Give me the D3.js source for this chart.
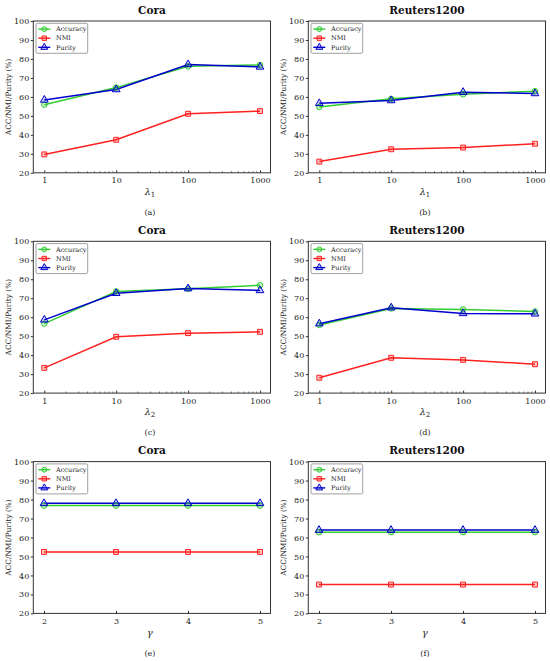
<!DOCTYPE html>
<html>
<head>
<meta charset="utf-8">
<script src="https://cdn.jsdelivr.net/npm/d3@7"></script>
<style>
  body { margin: 0; background: #fff; }
  text { font-family: "DejaVu Serif", serif; fill: #222; }
</style>
</head>
<body>
<div id="container"></div>
<script>
// values
var lambdaTicks = [1, 10, 100, 1000],
    gammaTicks = [2, 3, 4, 5],
    yTicks = [20, 30, 40, 50, 60, 70, 80, 90, 100],
    seriesNames = ['Accuracy', 'NMI', 'Purity'],
    panelTitles = ['Cora', 'Reuters1200', 'Cora', 'Reuters1200', 'Cora', 'Reuters1200'],
    panelTags = ['(a)', '(b)', '(c)', '(d)', '(e)', '(f)'];

var accA = [55.9, 64.9, 76.1, 76.8], nmiA = [29.7, 37.4, 51.1, 52.5], purA = [58.4, 63.9, 77.1, 75.8];
var accB = [54.7, 59.0, 61.4, 63.0], nmiB = [25.9, 32.4, 33.3, 35.3], purB = [56.6, 58.1, 62.5, 61.8];
var accC = [56.6, 73.6, 75.0, 76.8], nmiC = [33.3, 49.7, 51.6, 52.3], purC = [58.6, 72.6, 75.1, 74.1];
var accD = [55.9, 64.6, 64.1, 63.0], nmiD = [28.1, 38.6, 37.5, 35.2], purD = [56.6, 65.0, 62.0, 61.8];
var accE = [76.8, 76.8, 76.8, 76.8], nmiE = [52.4, 52.4, 52.4, 52.4], purE = [78.0, 78.0, 78.0, 78.0];
var accF = [62.8, 62.8, 62.8, 62.8], nmiF = [35.2, 35.2, 35.2, 35.2], purF = [63.9, 63.9, 63.9, 63.9];

var panels = [
  {x: lambdaTicks, log: true, xlab: 'λ', sub: '1', s: [accA, nmiA, purA]},
  {x: lambdaTicks, log: true, xlab: 'λ', sub: '1', s: [accB, nmiB, purB]},
  {x: lambdaTicks, log: true, xlab: 'λ', sub: '2', s: [accC, nmiC, purC]},
  {x: lambdaTicks, log: true, xlab: 'λ', sub: '2', s: [accD, nmiD, purD]},
  {x: gammaTicks, log: false, xlab: 'γ', sub: '', s: [accE, nmiE, purE]},
  {x: gammaTicks, log: false, xlab: 'γ', sub: '', s: [accF, nmiF, purF]}
];

var colors = ['#33cc33', '#ff2020', '#0000cc'],
    fills = ['rgba(51,204,51,0.25)', 'rgba(255,32,32,0.25)', 'rgba(0,0,204,0.2)'],
    shapes = [d3.symbolCircle, d3.symbolSquare, d3.symbolTriangle],
    sizes = [24, 24, 26];

var W = 550, H = 661;
var svg = d3.select('#container').append('svg').attr('width', W).attr('height', H);

panels.forEach(function(p, i) {
  var ox = (i % 2) * 275, oy = Math.floor(i / 2) * 220.3;
  var g = svg.append('g').attr('transform', `translate(${ox},${oy})`);
  var left = 33.3, right = 270.5, top = 21, bottom = 172.8;

  var xScale = p.log ? d3.scaleLog().domain([1, 1000]).range([44.3, 260])
                     : d3.scaleLinear().domain([2, 5]).range([44, 260]);
  var yScale = d3.scaleLinear().domain([20, 100]).range([bottom, top]);

  // title
  g.append('text').attr('x', (left + right) / 2).attr('y', 13.5)
    .attr('text-anchor', 'middle').attr('font-size', 10.5).attr('font-weight', 'bold')
    .style('fill', '#111').text(panelTitles[i]);

  // y axis
  var yAxis = d3.axisLeft(yScale).tickValues(yTicks).tickSize(2.5).tickPadding(1.5);
  var ya = g.append('g').attr('transform', `translate(${left},0)`).call(yAxis);
  ya.select('.domain').remove();
  ya.selectAll('line').attr('stroke', '#333');
  ya.selectAll('text').attr('font-size', 8).style('font-family', '"DejaVu Serif", serif').style('fill', '#222');

  // x axis
  var xAxis = d3.axisBottom(xScale).tickValues(p.x).tickFormat(d3.format('d')).tickSize(-2.5).tickPadding(5);
  var xa = g.append('g').attr('transform', `translate(0,${bottom})`).call(xAxis);
  xa.select('.domain').remove();
  xa.selectAll('line').attr('stroke', '#333');
  xa.selectAll('text').attr('font-size', 8).style('font-family', '"DejaVu Serif", serif').style('fill', '#222');

  if (p.log) {
    var minors = [];
    [1, 10, 100].forEach(function(dec) { for (var k = 2; k <= 9; k++) minors.push(dec * k); });
    g.append('g').selectAll('line').data(minors).enter().append('line')
      .attr('x1', d => xScale(d)).attr('x2', d => xScale(d))
      .attr('y1', bottom).attr('y2', bottom - 1.6)
      .attr('stroke', '#444').attr('stroke-width', 0.7);
  }

  // frame
  g.append('rect').attr('x', left).attr('y', top).attr('width', right - left).attr('height', bottom - top)
    .attr('fill', 'none').attr('stroke', '#333').attr('stroke-width', 1);

  // y label
  g.append('text').attr('transform', `translate(8.5,${(top + bottom) / 2}) rotate(-90)`)
    .attr('text-anchor', 'middle').attr('dy', '0.35em').attr('font-size', 7.4).text('ACC/NMI/Purity (%)');

  // x label
  var xl = g.append('text').attr('x', (left + right) / 2 - 2).attr('y', 195)
    .attr('text-anchor', 'middle').attr('font-size', 9.5).style('font-style', 'italic');
  xl.append('tspan').text(p.xlab);
  if (p.sub) xl.append('tspan').attr('font-size', 7).attr('dy', 2).style('font-style', 'normal').text(p.sub);

  // panel tag
  g.append('text').attr('x', (left + right) / 2 - 2).attr('y', 215)
    .attr('text-anchor', 'middle').attr('font-size', 8).text(panelTags[i]);

  // lines
  var line = d3.line().x((d, j) => xScale(p.x[j])).y(d => yScale(d));
  p.s.forEach(function(vals, k) {
    g.append('path').datum(vals).attr('d', line)
      .attr('fill', 'none').attr('stroke', colors[k]).attr('stroke-width', 1.5);
  });
  p.s.forEach(function(vals, k) {
    g.append('g').selectAll('path').data(vals).enter().append('path')
      .attr('transform', (d, j) => `translate(${xScale(p.x[j])},${yScale(d)})`)
      .attr('d', d3.symbol().type(shapes[k]).size(sizes[k]))
      .attr('fill', fills[k]).attr('stroke', colors[k]).attr('stroke-width', 1);
  });

  // legend
  var lg = g.append('g').attr('transform', 'translate(36,23.3)');
  lg.append('rect').attr('width', 51.7).attr('height', 30).attr('rx', 1.5)
    .attr('fill', '#fff').attr('stroke', '#888').attr('stroke-width', 0.8);
  seriesNames.forEach(function(name, k) {
    var yy = 5.8 + k * 9.1;
    lg.append('line').attr('x1', 2.3).attr('x2', 14.3).attr('y1', yy).attr('y2', yy)
      .attr('stroke', colors[k]).attr('stroke-width', 1.4);
    lg.append('path').attr('transform', `translate(8.3,${yy})`)
      .attr('d', d3.symbol().type(shapes[k]).size(sizes[k] * 0.8))
      .attr('fill', fills[k]).attr('stroke', colors[k]).attr('stroke-width', 1);
    lg.append('text').attr('x', 20).attr('y', yy).attr('dy', '0.35em')
      .attr('font-size', 6.5).text(name);
  });
});
</script>
</body>
</html>
